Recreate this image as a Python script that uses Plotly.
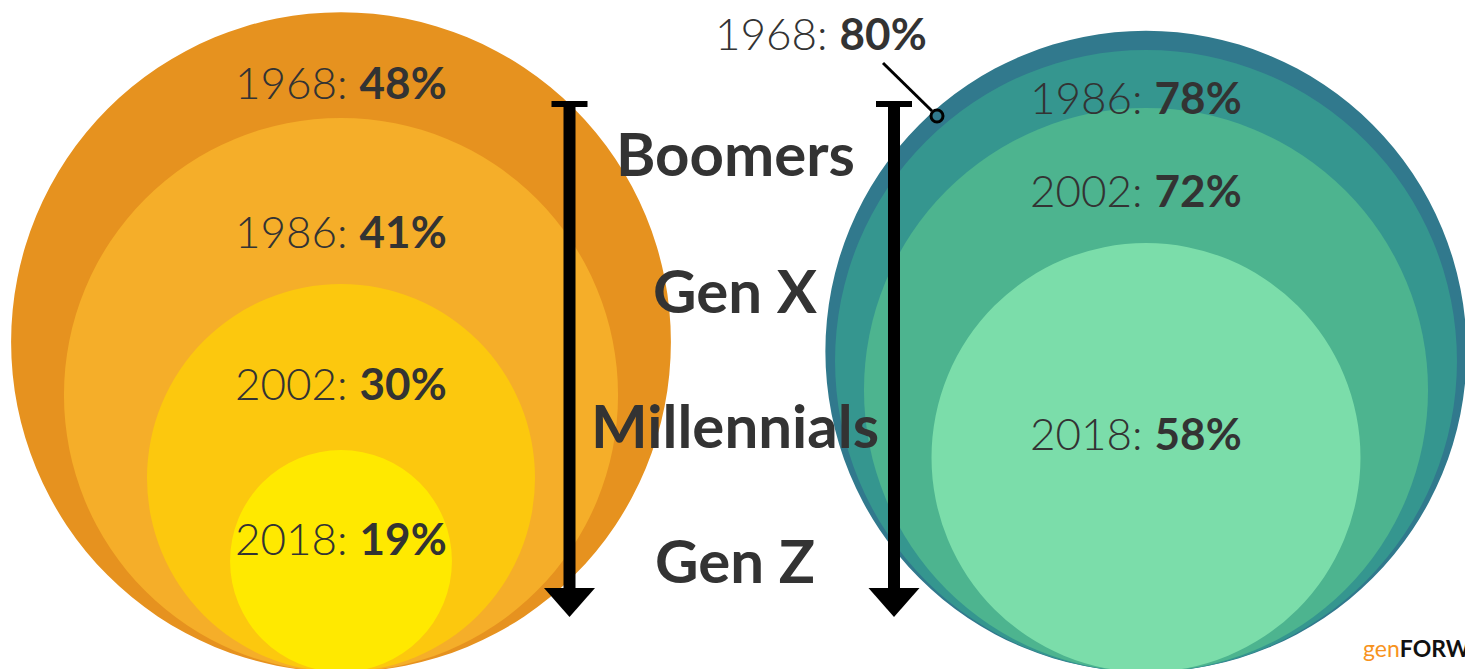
import plotly.graph_objects as go

# ---- data ----
years = ["1968", "1986", "2002", "2018"]
left_values = [48, 41, 30, 19]
right_values = [80, 78, 72, 58]
generations = ["Boomers", "Gen X", "Millennials", "Gen Z"]

# ---- styles / layout ----
left_colors = ["#E6921F", "#F5AE29", "#FCC80E", "#FFE900"]
right_colors = ["#31798D", "#35968F", "#4DB48F", "#7BDDAA"]
TEXT = "#333333"
W, H = 1473, 669
PAD = 8  # browser body margin

# value -> radius scales (pixels) per panel
left_scale = (7.55, -32.5)
right_scale = (4.824, -65.3)
left_cx, right_cx, base_y = 341, 1146, 672

left_label_y = [82, 231, 383, 538]
right_label_pos = [(821, 33), (1136, 97), (1136, 190), (1136, 433)]
gen_x, gen_y = 735, [153, 290, 425, 560]


def radius(v, scale):
    return scale[0] * v + scale[1]


shapes = []
annotations = []


def add_circles(values, colors, cx, scale):
    for v, c in zip(values, colors):
        r = radius(v, scale)
        cy = base_y - r
        shapes.append(dict(type="circle", xref="x", yref="y",
                           x0=cx - r, x1=cx + r, y0=cy - r, y1=cy + r,
                           fillcolor=c, line=dict(width=0), layer="below"))


add_circles(left_values, left_colors, left_cx, left_scale)
add_circles(right_values, right_colors, right_cx, right_scale)

label_font = dict(family="Lato, 'Open Sans', sans-serif", size=44, color=TEXT, weight=300)
for yr, v, ly in zip(years, left_values, left_label_y):
    annotations.append(dict(x=left_cx, y=ly, xref="x", yref="y",
                            text=f"{yr}: <b>{v}%</b>", showarrow=False,
                            font=label_font, xanchor="center", yanchor="middle"))
for yr, v, (lx, ly) in zip(years, right_values, right_label_pos):
    annotations.append(dict(x=lx, y=ly, xref="x", yref="y",
                            text=f"{yr}: <b>{v}%</b>", showarrow=False,
                            font=label_font, xanchor="center", yanchor="middle"))

gen_font = dict(family="Lato, 'Open Sans', sans-serif", size=60, color=TEXT)
for g, gy in zip(generations, gen_y):
    annotations.append(dict(x=gen_x, y=gy, xref="x", yref="y",
                            text=f"<b>{g}</b>", showarrow=False, font=gen_font,
                            xanchor="center", yanchor="middle"))

# decorative timeline arrows
for ax in (569.5, 894):
    shapes.append(dict(type="rect", xref="x", yref="y", x0=ax - 6, x1=ax + 6,
                       y0=101, y1=590, fillcolor="black", line=dict(width=0)))
    shapes.append(dict(type="rect", xref="x", yref="y", x0=ax - 18, x1=ax + 18,
                       y0=101, y1=107, fillcolor="black", line=dict(width=0)))
    shapes.append(dict(type="path", xref="x", yref="y",
                       path=f"M {ax-25.5},588 L {ax+25.5},588 L {ax},617 Z",
                       fillcolor="black", line=dict(width=0)))

# pointer for the 1968 right label
shapes.append(dict(type="line", xref="x", yref="y", x0=883, y0=63, x1=932, y1=111,
                   line=dict(color="black", width=3)))
shapes.append(dict(type="circle", xref="x", yref="y", x0=931, x1=943, y0=110, y1=122,
                   fillcolor=right_colors[0], line=dict(color="black", width=3)))

# logo (cut at the right edge in the original)
annotations.append(dict(x=1472, y=664, xref="x", yref="y",
                        text="<span style='color:#F7931E'>gen</span><b>FORW</b>",
                        showarrow=False, xanchor="right", yanchor="bottom",
                        font=dict(family="Lato, sans-serif", size=23, color="#111111")))

fig = go.Figure()
fig.add_trace(go.Scatter(x=[PAD, W], y=[PAD, H], mode="markers",
                         marker=dict(opacity=0), hoverinfo="skip", showlegend=False))
fig.update_layout(
    width=W - PAD, height=H - PAD, margin=dict(l=0, r=0, t=0, b=0),
    paper_bgcolor="white", plot_bgcolor="white",
    xaxis=dict(range=[PAD, W], visible=False, fixedrange=True),
    yaxis=dict(range=[H, PAD], visible=False, fixedrange=True),
    shapes=shapes, annotations=annotations, showlegend=False,
)
fig.write_html("out.html")
